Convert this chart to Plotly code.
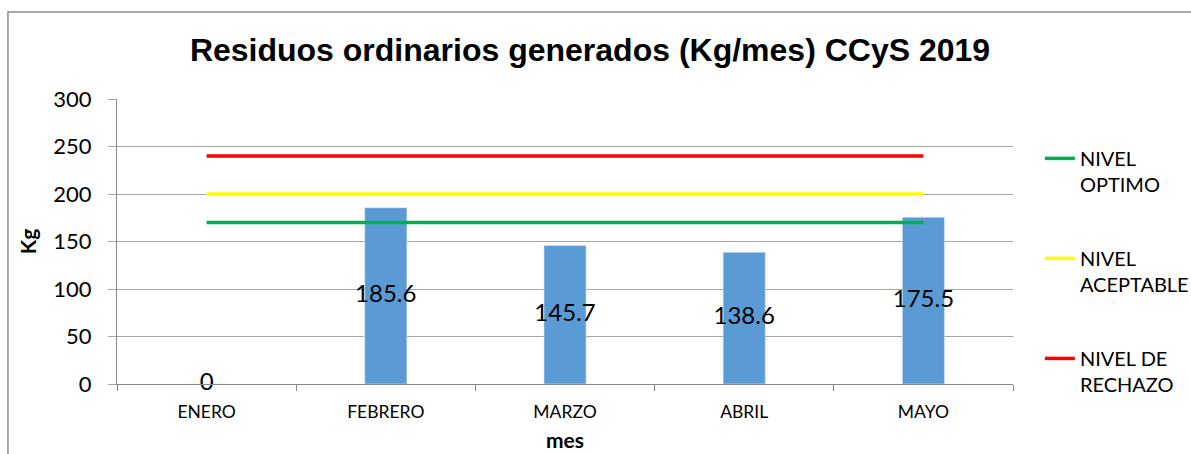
import plotly.graph_objects as go

months = ["ENERO", "FEBRERO", "MARZO", "ABRIL", "MAYO"]
residuos = [0, 185.6, 145.7, 138.6, 175.5]
nivel_optimo = [170, 170, 170, 170, 170]
nivel_aceptable = [200, 200, 200, 200, 200]
nivel_rechazo = [240, 240, 240, 240, 240]

FONT = "Lato"

fig = go.Figure()
fig.add_trace(go.Bar(x=months, y=residuos, marker_color="#5B9BD5", width=0.235,
                     showlegend=False, hoverinfo="x+y"))
fig.add_trace(go.Scatter(x=months, y=nivel_optimo, mode="lines", name="NIVEL<br>OPTIMO",
                         line=dict(color="#00B050", width=3.5), legendgroup="a"))
fig.add_trace(go.Scatter(x=months, y=nivel_aceptable, mode="lines", name="NIVEL<br>ACEPTABLE",
                         line=dict(color="#FFFF00", width=3.5), legendgroup="b"))
fig.add_trace(go.Scatter(x=months, y=nivel_rechazo, mode="lines", name="NIVEL DE<br>RECHAZO",
                         line=dict(color="#FF0000", width=3.5), legendgroup="c"))
fig.add_trace(go.Scatter(x=months, y=[v / 2 for v in residuos], mode="text",
                         text=[f"{v:g}" for v in residuos], cliponaxis=False,
                         textfont=dict(family=FONT, size=24, color="#000000"),
                         showlegend=False, hoverinfo="skip"))

fig.update_layout(
    width=1191, height=454,
    margin=dict(l=117, r=178, t=99, b=70, autoexpand=False),
    paper_bgcolor="white", plot_bgcolor="white",
    title=dict(text="<b>Residuos ordinarios generados (Kg/mes) CCyS 2019</b>",
               font=dict(family="Liberation Sans", size=32, color="#000000"),
               x=590 / 1191, xanchor="center", xref="container", y=1 - 50 / 454, yanchor="middle"),
    legend=dict(x=1.03, xanchor="left", y=0.86, yanchor="top", valign="top",
                font=dict(family=FONT, size=20, color="#000000"),
                tracegroupgap=45, bgcolor="rgba(0,0,0,0)"),
    shapes=[dict(type="rect", xref="paper", yref="paper", x0=-0.1217, x1=1.5,
                 y0=-0.6, y1=1.305, line=dict(color="#8c8c8c", width=1.5), layer="below")],
)
fig.update_xaxes(type="category", showline=True, linecolor="#888888", linewidth=1,
                 ticks="outside", tickson="boundaries", ticklen=6, tickcolor="#888888",
                 tickfont=dict(family=FONT, size=17.5, color="#000000"),
                 ticklabelstandoff=12, automargin=False,
                 title=dict(text="<b>mes</b>", font=dict(family=FONT, size=21, color="#000000"),
                            standoff=12))
fig.update_yaxes(range=[0, 300], dtick=50, showline=True, linecolor="#888888", linewidth=1,
                 showgrid=True, gridcolor="#a6a6a6", gridwidth=1,
                 ticks="outside", ticklen=8, tickcolor="#a6a6a6",
                 tickfont=dict(family=FONT, size=22, color="#000000"),
                 ticklabelstandoff=12, zeroline=False, automargin=False,
                 title=dict(text="<b>Kg</b>", font=dict(family=FONT, size=21, color="#000000"),
                            standoff=10))

fig.write_html("out.html", config={"displayModeBar": False},
               post_script="document.body.style.margin='0';")
